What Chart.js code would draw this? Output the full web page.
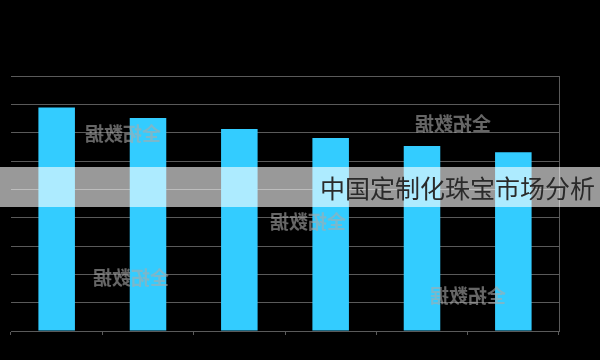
<!DOCTYPE html>
<html>
<head>
<meta charset="utf-8">
<script src="https://cdn.jsdelivr.net/npm/chart.js@4"></script>
<style>
  html, body { margin: 0; padding: 0; background: #000; }
  #wrap { width: 600px; height: 360px; }
</style>
</head>
<body>
<div id="wrap"><canvas id="chart" width="600" height="360"></canvas></div>
<script>
  // categories are not printed on the picture, only six bars
  const categories = ["1", "2", "3", "4", "5", "6"];
  const values = [7.89, 7.52, 7.13, 6.81, 6.53, 6.31];
  const yTicks = [0, 1, 2, 3, 4, 5, 6, 7, 8, 9];

  const bannerText = "中国定制化珠宝市场分析";
  const watermark = "全拓数据";
  // watermark centres
  const wmX = [123, 453, 308, 131, 468];
  const wmY = [134, 124, 222, 278, 296];

  const overlay = {
    id: "overlay",
    afterDraw(chart) {
      const ctx = chart.ctx;
      ctx.save();
      // mirrored watermarks
      ctx.font = "bold 19px 'Noto Sans CJK SC'";
      ctx.fillStyle = "rgba(170,170,170,0.6)";
      ctx.textAlign = "center";
      ctx.textBaseline = "middle";
      wmX.forEach((x, i) => {
        ctx.save();
        ctx.translate(x, wmY[i]);
        ctx.scale(-1, 1);
        ctx.fillText(watermark, 0, 0);
        ctx.restore();
      });
      // translucent band with title
      ctx.fillStyle = "rgba(255,255,255,0.6)";
      ctx.fillRect(0, 167, 600, 40);
      ctx.fillStyle = "#2a2a2a";
      ctx.font = "25px 'Noto Sans CJK SC'";
      ctx.textAlign = "left";
      ctx.fillText(bannerText, 320, 188);
      ctx.restore();
    }
  };

  const bg = {
    id: "bg",
    beforeDraw(chart) {
      const ctx = chart.ctx;
      ctx.save();
      ctx.fillStyle = "#000";
      ctx.fillRect(0, 0, chart.width, chart.height);
      ctx.restore();
    }
  };

  new Chart(document.getElementById("chart"), {
    type: "bar",
    data: {
      labels: categories,
      datasets: [{
        data: values,
        backgroundColor: "#33ccff",
        borderWidth: 0,
        categoryPercentage: 0.8,
        barPercentage: 0.5,
      }],
    },
    options: {
      responsive: false,
      animation: false,
      events: [],
      layout: { padding: { left: 11, right: 41, top: 76, bottom: 25 } },
      plugins: { legend: { display: false }, tooltip: { enabled: false } },
      scales: {
        x: {
          grid: { display: true, drawOnChartArea: false, drawTicks: true, tickLength: 4, color: "#5a5a5a" },
          border: { display: true, color: "#5a5a5a" },
          ticks: { display: false },
        },
        y: {
          min: yTicks[0],
          max: yTicks[yTicks.length - 1],
          afterBuildTicks: (axis) => { axis.ticks = yTicks.map((v) => ({ value: v })); },
          grid: { color: "#5a5a5a", drawTicks: false },
          border: { display: false },
          ticks: { display: false },
        },
        y2: {
          position: "right",
          min: 0,
          max: 9,
          grid: { display: false, drawTicks: false },
          border: { display: true, color: "#5a5a5a" },
          ticks: { display: false },
        },
      },
    },
    plugins: [bg, overlay],
  });
</script>
</body>
</html>
